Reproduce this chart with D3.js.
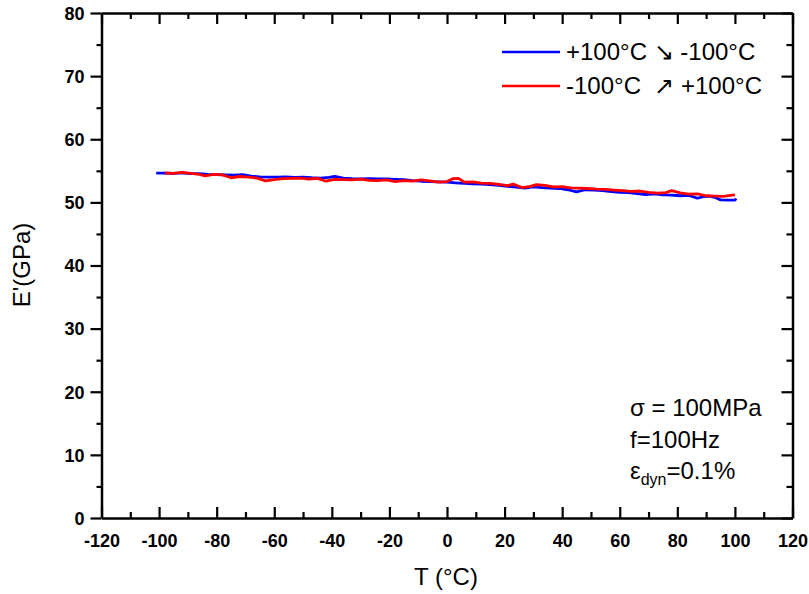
<!DOCTYPE html>
<html><head><meta charset="utf-8">
<script src="https://cdn.jsdelivr.net/npm/d3@7"></script>
<style>body{margin:0;background:#fff}svg text{font-family:Arial,"Liberation Sans",sans-serif}</style>
</head><body><svg id="c" width="809" height="594"></svg>
<script>
const xTicks = [-120,-100,-80,-60,-40,-20,0,20,40,60,80,100,120];
const yTicks = [0,10,20,30,40,50,60,70,80];
const blueT = [-101,-98,-95,-92,-89,-86,-83,-80,-77,-74,-71,-68,-65,-62,-59,-56,-53,-50,-47,-44,-41,-39,-36,-33,-30,-27,-24,-21,-18,-15,-12,-9,-6,-3,0,3,6,9,12,15,18,21,24,27,30,33,36,39,42,45,48,51,54,57,60,63,66,69,72,75,78,81,84,87,89,91,93,95,98,100,100.5];
const blueE = [54.62,54.62,54.6,54.68,54.55,54.55,54.45,54.4,54.35,54.3,54.38,54.15,54.05,54.0,54.0,54.05,53.95,54.0,53.9,53.85,53.95,54.1,53.85,53.75,53.7,53.75,53.7,53.7,53.65,53.6,53.45,53.35,53.3,53.25,53.2,53.1,53.0,52.95,52.9,52.8,52.7,52.55,52.4,52.25,52.45,52.35,52.25,52.2,52.0,51.65,52.0,51.95,51.85,51.7,51.6,51.55,51.4,51.25,51.35,51.2,51.15,51.05,51.1,50.65,50.9,51.0,50.8,50.4,50.35,50.35,50.6];
const redT = [-98,-95,-92,-89,-86,-84,-81,-78,-75,-72,-69,-66,-63,-60,-57,-54,-51,-48,-45,-42,-39,-36,-33,-30,-27,-24,-21,-18,-15,-12,-9,-6,-3,0,2,4,6,9,12,15,18,21,23,26,29,31,34,37,40,43,46,49,52,55,58,61,64,67,70,73,76,78,81,84,87,90,93,96,99,100];
const redE = [54.65,54.6,54.75,54.6,54.45,54.2,54.45,54.35,53.9,54.1,54.0,53.85,53.4,53.6,53.75,53.8,53.85,53.7,53.8,53.35,53.65,53.6,53.55,53.7,53.5,53.45,53.55,53.3,53.45,53.35,53.55,53.4,53.2,53.3,53.75,53.8,53.2,53.25,53.05,53.0,52.85,52.65,52.9,52.35,52.55,52.8,52.7,52.45,52.5,52.3,52.25,52.2,52.1,52.05,51.95,51.85,51.75,51.8,51.6,51.45,51.55,51.85,51.5,51.3,51.35,51.05,51.0,50.95,51.15,51.2];

const svg = d3.select("#c");
const L=101.5,R=792.5,T=13,B=518;
const x = d3.scaleLinear().domain([-120,120]).range([L,R]);
const y = d3.scaleLinear().domain([0,80]).range([B,T]);
const fmt = d => String(d);
const xMinor = d3.range(-110,120,20);
const yMinor = d3.range(5,80,10);
const bx = svg.append("g").attr("transform",`translate(0,${B})`).call(d3.axisBottom(x).tickValues(xTicks).tickFormat(fmt).tickSize(-11).tickPadding(16).tickSizeOuter(0));
bx.append("g").call(d3.axisBottom(x).tickValues(xMinor).tickSize(-6).tickFormat("").tickSizeOuter(0)).select(".domain").remove();
const tx = svg.append("g").attr("transform",`translate(0,${T})`).call(d3.axisTop(x).tickValues(xTicks).tickSize(-11).tickFormat("").tickSizeOuter(0));
tx.append("g").call(d3.axisTop(x).tickValues(xMinor).tickSize(-6).tickFormat("").tickSizeOuter(0)).select(".domain").remove();
const ly = svg.append("g").attr("transform",`translate(${L},0)`).call(d3.axisLeft(y).tickValues(yTicks).tickFormat(fmt).tickSize(11).tickPadding(6).tickSizeOuter(0));
ly.append("g").call(d3.axisLeft(y).tickValues(yMinor).tickSize(5).tickFormat("").tickSizeOuter(0)).select(".domain").remove();
const ry = svg.append("g").attr("transform",`translate(${R},0)`).call(d3.axisRight(y).tickValues(yTicks).tickSize(-11).tickFormat("").tickSizeOuter(0));
ry.append("g").call(d3.axisRight(y).tickValues(yMinor).tickSize(-6).tickFormat("").tickSizeOuter(0)).select(".domain").remove();
svg.selectAll(".domain").attr("stroke-width",2.5).attr("stroke","#000");
svg.selectAll(".tick line").attr("stroke-width",2.2).attr("stroke","#000");
svg.selectAll(".tick text").attr("font-size",18).attr("font-weight","bold").attr("fill","#000").attr("font-family","Arial, 'Liberation Sans', sans-serif");
ly.selectAll(".tick text").attr("dy","0.35em");
bx.selectAll(".tick text").attr("dy","0.71em");

const line = d3.line().x(d=>x(d[0])).y(d=>y(d[1]));
svg.append("path").datum(blueT.map((t,i)=>[t,blueE[i]])).attr("d",line).attr("fill","none").attr("stroke","#0000ff").attr("stroke-width",2.8).attr("stroke-linejoin","round");
svg.append("path").datum(redT.map((t,i)=>[t,redE[i]])).attr("d",line).attr("fill","none").attr("stroke","#ff0000").attr("stroke-width",2.8).attr("stroke-linejoin","round");

// legend
const leg = [["+100°C ↘ -100°C","#0000ff",52],["-100°C  ↗ +100°C","#ff0000",86]];
leg.forEach(([t,c,yy])=>{
  svg.append("line").attr("x1",502).attr("x2",560).attr("y1",yy).attr("y2",yy).attr("stroke",c).attr("stroke-width",2.5);
  svg.append("text").attr("x",566).attr("y",yy+8).attr("font-size",24).attr("xml:space","preserve").style("white-space","pre").text(t);
});
// annotations
svg.append("text").attr("x",630).attr("y",416).attr("font-size",24).text("σ = 100MPa");
svg.append("text").attr("x",630).attr("y",448).attr("font-size",24).text("f=100Hz");
const e = svg.append("text").attr("x",630).attr("y",479).attr("font-size",24);
e.append("tspan").text("ε");
e.append("tspan").attr("font-size",16).attr("dy",6).text("dyn");
e.append("tspan").attr("dy",-6).text("=0.1%");
// axis titles
svg.append("text").attr("x",446).attr("y",585).attr("text-anchor","middle").attr("font-size",24).text("T (°C)");
svg.append("text").attr("transform","translate(30,265) rotate(-90)").attr("text-anchor","middle").attr("font-size",24).text("E'(GPa)");
</script></body></html>
